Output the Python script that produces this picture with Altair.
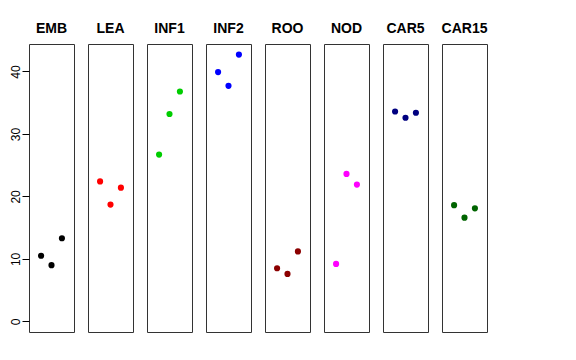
import altair as alt
import pandas as pd

panels = ["EMB", "LEA", "INF1", "INF2", "ROO", "NOD", "CAR5", "CAR15"]
colors = ["#000000", "#FF0000", "#00CD00", "#0000FF", "#8B0000", "#FF00FF", "#000080", "#006400"]
rep = [1, 2, 3]
emb = [10.5, 9.0, 13.3]
lea = [22.4, 18.7, 21.4]
inf1 = [26.7, 33.2, 36.8]
inf2 = [39.9, 37.7, 42.7]
roo = [8.5, 7.6, 11.2]
nod = [9.2, 23.6, 21.9]
car5 = [33.6, 32.6, 33.4]
car15 = [18.6, 16.6, 18.1]
series = [emb, lea, inf1, inf2, roo, nod, car5, car15]
y_ticks = [0, 10, 20, 30, 40]

FONT = "Liberation Sans"
charts = []
for i, (name, col, vals) in enumerate(zip(panels, colors, series)):
    df = pd.DataFrame({"rep": rep, "value": vals})
    if i == 0:
        yaxis = alt.Axis(values=y_ticks, title=None, grid=False, domain=False,
                         tickSize=7, tickColor="black", labelColor="black",
                         labelFont=FONT, labelFontSize=12, labelAngle=270,
                         labelAlign="center", labelBaseline="bottom", labelPadding=0)
    else:
        yaxis = None
    c = alt.Chart(df).mark_circle(size=38, opacity=1, color=col).encode(
        x=alt.X("rep:Q", scale=alt.Scale(domain=[-0.16, 4.16], nice=False, zero=False), axis=None),
        y=alt.Y("value:Q", scale=alt.Scale(domain=[-1.7, 44.4], nice=False, zero=False), axis=yaxis),
    ).properties(
        width=45, height=288,
        title=alt.TitleParams(name, fontSize=14, fontWeight="bold", font=FONT, color="black", offset=8),
    )
    charts.append(c)

chart = alt.hconcat(*charts, spacing=12).properties(
    padding={"left": 0, "top": 13, "right": 0, "bottom": 0}
).configure_view(stroke="#333333", strokeWidth=1)

chart.save("out.html", embed_options={"renderer": "svg", "actions": False})
